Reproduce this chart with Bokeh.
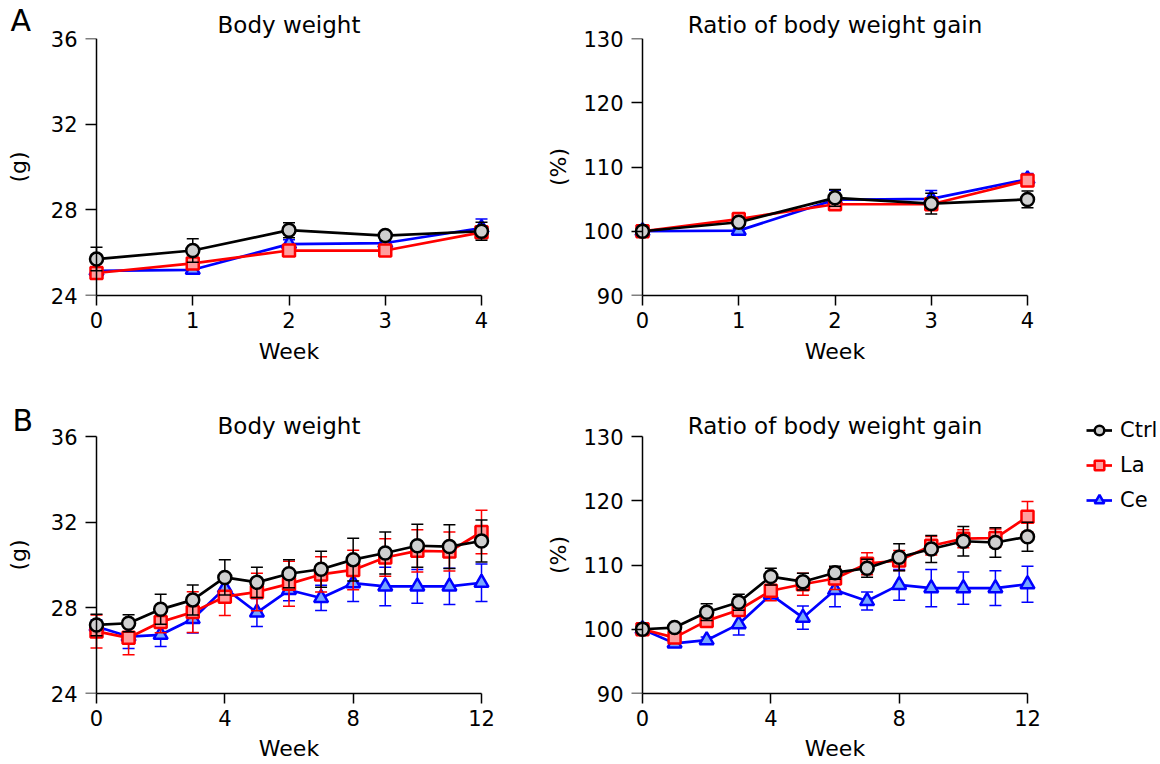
import math
from bokeh.plotting import figure
from bokeh.models import Range1d, Label, Legend, LegendItem, FixedTicker, LinearAxis
from bokeh.layouts import column, row
from bokeh.embed import file_html
from bokeh.resources import INLINE

# ---------------- data ----------------
weeks_a = [0, 1, 2, 3, 4]
weeks_b = [0, 1, 2, 3, 4, 5, 6, 7, 8, 9, 10, 11, 12]

# Panel A - body weight (g)
ctrl_bw_a = [25.7, 26.1, 27.05, 26.8, 27.0]
ctrl_bw_a_err = [0.55, 0.55, 0.35, 0.12, 0.42]
la_bw_a = [25.05, 25.5, 26.1, 26.1, 26.95]
la_bw_a_err = [0.15, 0.15, 0.12, 0.1, 0.2]
ce_bw_a = [25.15, 25.2, 26.4, 26.45, 27.15]
ce_bw_a_err = [0.1, 0.12, 0.2, 0.1, 0.42]

# Panel A - ratio of body weight gain (%)
ctrl_r_a = [100, 101.4, 105.2, 104.3, 104.95]
ctrl_r_a_err = [0, 0.5, 1.3, 1.6, 1.3]
la_r_a = [100, 101.9, 104.2, 104.2, 107.9]
la_r_a_err = [0, 0.5, 0.5, 0.6, 0.8]
ce_r_a = [100, 100.1, 104.9, 105.05, 108.1]
ce_r_a_err = [0, 0.3, 1.5, 1.3, 0.9]

# Panel B - body weight (g)
ctrl_bw_b = [27.2, 27.28, 27.93, 28.37, 29.42, 29.19, 29.59, 29.8, 30.25, 30.56, 30.9, 30.86, 31.12]
ctrl_bw_b_err = [0.5, 0.4, 0.7, 0.7, 0.82, 0.71, 0.65, 0.84, 1.0, 0.98, 1.0, 1.02, 0.98]
la_bw_b = [26.9, 26.6, 27.34, 27.8, 28.52, 28.74, 29.12, 29.56, 29.77, 30.35, 30.66, 30.63, 31.54]
la_bw_b_err = [0.77, 0.79, 0.5, 0.95, 0.88, 0.88, 1.05, 0.82, 0.92, 0.88, 0.99, 0.91, 1.02]
ce_bw_b = [27.13, 26.66, 26.74, 27.48, 28.92, 27.78, 28.83, 28.46, 29.15, 29.0, 29.0, 29.0, 29.17]
ce_bw_b_err = [0.3, 0.56, 0.54, 0.65, 0.5, 0.65, 0.5, 0.59, 0.85, 0.9, 0.79, 0.85, 0.88]

# Panel B - ratio of body weight gain (%)
ctrl_r_b = [100, 100.26, 102.65, 104.2, 108.2, 107.4, 108.8, 109.5, 111.2, 112.5, 113.7, 113.5, 114.4]
ctrl_r_b_err = [0, 0.4, 1.3, 1.25, 1.3, 1.3, 1.0, 1.4, 2.1, 2.1, 2.3, 2.3, 2.25]
la_r_b = [100, 98.7, 101.3, 103.0, 106.0, 107.0, 107.9, 110.2, 110.7, 113.0, 114.1, 114.2, 117.5]
la_r_b_err = [0, 0.5, 0.7, 0.7, 1.55, 1.7, 1.7, 1.7, 1.55, 1.45, 1.4, 1.4, 2.4]
ce_r_b = [100, 97.8, 98.3, 100.8, 105.4, 101.8, 106.1, 104.4, 106.9, 106.4, 106.4, 106.4, 107.0]
ce_r_b_err = [0, 0.3, 0.5, 1.7, 0.5, 1.8, 2.6, 1.4, 2.4, 2.9, 2.5, 2.7, 2.8]

groups = ["Ctrl", "La", "Ce"]
xticks_a = [0, 1, 2, 3, 4]
xticks_b = [0, 4, 8, 12]
yticks_bw = [24, 28, 32, 36]
yticks_r = [90, 100, 110, 120, 130]
titles = ["Body weight", "Ratio of body weight gain"]
ylabels = ["(g)", "(%)"]
xlabel = "Week"
letters = ["A", "B"]

# ---------------- style ----------------
FONT = "DejaVu Sans"
STYLE = {
    "Ce": dict(color="#0000ff", fill="#78a8ff", marker="triangle", size=14),
    "La": dict(color="#ff0000", fill="#ff9e9e", marker="square", size=12),
    "Ctrl": dict(color="#000000", fill="#d0d0d0", marker="circle", size=13),
}
AXIS_W = 385      # pixel length of the x axis line
PAD_PX = 18       # frame padding left of week 0


def make_panel(weeks, data, yr, yticks, xticks, title, ylab, letter, width, ml, mr,
               height, mt, mb, title_pos, letter_off, ylab_standoff, xlab_standoff,
               extra_top=0):
    xmax = weeks[-1]
    ppu = AXIS_W / xmax
    pad = PAD_PX / ppu
    frame_w = width - ml - mr
    frame_h = height - mt - mb
    ytop = yr[1] + extra_top * (yr[1] - yr[0]) / (frame_h - extra_top)
    p = figure(width=width, height=height, output_backend="svg", toolbar_location=None,
               x_range=Range1d(-pad, -pad + frame_w / ppu), y_range=Range1d(yr[0], ytop),
               min_border_left=ml, min_border_right=mr,
               min_border_top=mt, min_border_bottom=mb,
               title=(title if title_pos[0] == "title" else None))
    p.outline_line_color = None
    p.grid.visible = False
    p.background_fill_color = "white"
    p.border_fill_color = "white"

    # title
    if title_pos[0] == "title":
        p.title.align = "center"
        p.title.text_font = FONT
        p.title.text_font_size = "23px"
        p.title.text_font_style = "normal"
        p.title.text_color = "black"
        p.title.standoff = title_pos[1]
    else:
        p.add_layout(Label(x=xmax / 2, y=yr[1], y_offset=title_pos[1], text=title,
                           text_align="center", text_baseline="alphabetic",
                           text_font=FONT, text_font_size="23px", text_color="black"))

    # x axis (at the bottom of the frame, y = min)
    xa = p.xaxis[0]
    xa.ticker = FixedTicker(ticks=xticks, minor_ticks=[])
    xa.bounds = (0, xmax)
    xa.axis_line_color = "black"
    xa.axis_line_width = 1.5
    xa.major_tick_line_color = "black"
    xa.major_tick_line_width = 1.5
    xa.major_tick_out = 10
    xa.major_tick_in = 0
    xa.minor_tick_out = 0
    xa.minor_tick_in = 0
    xa.major_label_standoff = 6
    xa.major_label_text_font = FONT
    xa.major_label_text_font_size = "21px"
    xa.major_label_text_color = "black"
    xa.axis_label = xlabel
    xa.axis_label_text_font = FONT
    xa.axis_label_text_font_size = "22px"
    xa.axis_label_text_font_style = "normal"
    xa.axis_label_text_color = "black"
    xa.axis_label_standoff = xlab_standoff

    # y axis tick labels + axis label (frame edge)
    ya = p.yaxis[0]
    ya.ticker = FixedTicker(ticks=yticks, minor_ticks=[])
    ya.axis_line_color = None
    ya.major_tick_line_color = None
    ya.major_tick_out = 0
    ya.major_tick_in = 0
    ya.minor_tick_out = 0
    ya.minor_tick_in = 0
    ya.major_label_standoff = 1
    ya.major_label_text_font = FONT
    ya.major_label_text_font_size = "21px"
    ya.major_label_text_color = "black"
    ya.axis_label = ylab
    ya.axis_label_text_font = FONT
    ya.axis_label_text_font_size = "22px"
    ya.axis_label_text_font_style = "normal"
    ya.axis_label_text_color = "black"
    ya.axis_label_standoff = ylab_standoff

    # y axis line and ticks at week 0 (tick marks only, no labels)
    ya2 = LinearAxis(ticker=FixedTicker(ticks=[], minor_ticks=yticks), fixed_location=0,
                     bounds=(yr[0], yr[1]), axis_line_color="black", axis_line_width=1.5,
                     minor_tick_line_color="black", minor_tick_line_width=1.5,
                     major_tick_in=0, major_tick_out=0, minor_tick_in=11, minor_tick_out=0,
                     major_label_standoff=0)
    p.add_layout(ya2, "right")

    for g in ["Ce", "La", "Ctrl"]:
        st = STYLE[g]
        ys, es = data[g]
        up = [y + e for y, e in zip(ys, es)]
        lo = [y - e for y, e in zip(ys, es)]
        p.segment(x0=weeks, y0=lo, x1=weeks, y1=up, line_color=st["color"], line_width=1.5)
        p.scatter(x=weeks, y=up, marker="dash", size=12, line_color=st["color"], line_width=1.5)
        p.scatter(x=weeks, y=lo, marker="dash", size=12, line_color=st["color"], line_width=1.5)
        p.line(x=weeks, y=ys, line_color=st["color"], line_width=2.7, line_join="round")
        p.scatter(x=weeks, y=ys, marker=st["marker"], size=st["size"],
                  line_color=st["color"], fill_color=st["fill"], line_width=2.5)

    if letter:
        p.add_layout(Label(x=0, y=yr[1], x_offset=letter_off[0], y_offset=letter_off[1],
                           text=letter, text_align="left", text_baseline="alphabetic",
                           text_font=FONT, text_font_size="30px", text_color="black"),
                     "right")
    return p


def make_legend_panel(width, height, mt, mb, loc, weeks, data):
    # legend-only figure: the series renderers sit outside its (empty) view range
    p = figure(width=width, height=height, output_backend="svg", toolbar_location=None,
               x_axis_type=None, y_axis_type=None, title=None,
               x_range=Range1d(-3, -2), y_range=Range1d(0, 1),
               min_border_left=0, min_border_right=0, min_border_top=mt, min_border_bottom=mb)
    p.outline_line_color = None
    p.grid.visible = False
    p.background_fill_color = "white"
    p.border_fill_color = "white"
    items = []
    for g in groups:
        st = STYLE[g]
        ln = p.line(x=weeks, y=data[g], line_color=st["color"], line_width=2.7)
        mk = p.scatter(x=weeks, y=data[g], marker=st["marker"], size=st["size"],
                       line_color=st["color"], fill_color=st["fill"], line_width=2.5)
        items.append(LegendItem(label=g, renderers=[ln, mk]))
    lg = Legend(items=items, location=loc, margin=0, padding=0, spacing=11,
                glyph_width=26, glyph_height=24, label_height=24, label_standoff=8,
                label_text_font=FONT, label_text_font_size="21px",
                label_text_color="black", border_line_color=None,
                background_fill_alpha=0)
    p.add_layout(lg)
    return p


LW, RW1, RW2, LEGW = 529, 631, 531, 100
H1, H2 = 380, 384

pA1 = make_panel(weeks_a, {"Ctrl": (ctrl_bw_a, ctrl_bw_a_err), "La": (la_bw_a, la_bw_a_err),
                           "Ce": (ce_bw_a, ce_bw_a_err)},
                 (24, 36), yticks_bw, xticks_a, titles[0], ylabels[0], letters[0],
                 LW, 78, 30, H1, 38, 85, ("title", 1), (-86, 18), 17, 8)
pA2 = make_panel(weeks_a, {"Ctrl": (ctrl_r_a, ctrl_r_a_err), "La": (la_r_a, la_r_a_err),
                           "Ce": (ce_r_a, ce_r_a_err)},
                 (90, 130), yticks_r, xticks_a, titles[1], ylabels[1], None,
                 RW1, 95, 115, H1, 38, 85, ("title", 1), None, 9, 8)
pB1 = make_panel(weeks_b, {"Ctrl": (ctrl_bw_b, ctrl_bw_b_err), "La": (la_bw_b, la_bw_b_err),
                           "Ce": (ce_bw_b, ce_bw_b_err)},
                 (24, 36), yticks_bw, xticks_b, titles[0], ylabels[0], letters[1],
                 LW, 78, 30, H2, 36, 71, ("label", 11), (-84, 16), 17, 7, extra_top=20)
pB2 = make_panel(weeks_b, {"Ctrl": (ctrl_r_b, ctrl_r_b_err), "La": (la_r_b, la_r_b_err),
                           "Ce": (ce_r_b, ce_r_b_err)},
                 (90, 130), yticks_r, xticks_b, titles[1], ylabels[1], None,
                 RW2, 95, 15, H2, 36, 71, ("label", 11), None, 9, 7, extra_top=20)
pLeg = make_legend_panel(LEGW, H2, 36, 71, (26, 181), weeks_b,
                         {"Ctrl": ctrl_r_b, "La": la_r_b, "Ce": ce_r_b})

layout = column(row(pA1, pA2), row(pB1, pB2, pLeg))
open("out.html", "w").write(file_html(layout, INLINE))
